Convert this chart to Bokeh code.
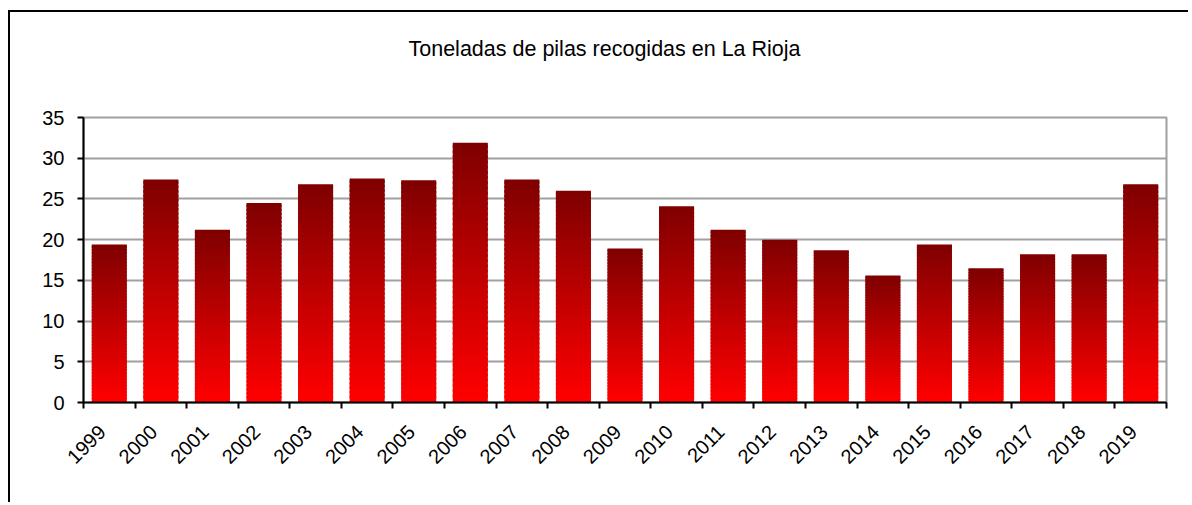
from math import pi
from bokeh.plotting import figure
from bokeh.models import FixedTicker, Range1d, Title
from bokeh.embed import file_html
from bokeh.resources import INLINE

title_text = "Toneladas de pilas recogidas en La Rioja"
years = ["1999", "2000", "2001", "2002", "2003", "2004", "2005", "2006", "2007", "2008",
         "2009", "2010", "2011", "2012", "2013", "2014", "2015", "2016", "2017", "2018", "2019"]
values = [19.4, 27.4, 21.2, 24.5, 26.8, 27.5, 27.3, 31.9, 27.4, 26.0,
          18.9, 24.1, 21.2, 20.0, 18.7, 15.6, 19.4, 16.5, 18.2, 18.2, 26.8]
y_ticks = [0, 5, 10, 15, 20, 25, 30, 35]

FONT = "Liberation Sans"

p = figure(width=1180, height=492, output_backend="svg", toolbar_location=None,
           x_range=Range1d(0, len(years)), y_range=Range1d(0, y_ticks[-1]),
           min_border_left=73, min_border_right=24, min_border_top=105, min_border_bottom=102)
p.margin = (10, 0, 0, 8)
p.styles = {"border-left": "2px solid black", "border-top": "2px solid black"}
p.background_fill_color = "white"
p.border_fill_color = "white"
p.outline_line_color = "#a0a0a0"
p.outline_line_width = 2

# spacer between the plot area and the chart title, then the title itself
spacer = Title(text=" ", text_font_size="1px", standoff=54)
title = Title(text=title_text, text_font=FONT, text_font_size="21.5px",
              text_font_style="normal", text_color="black", align="left",
              offset=325, standoff=0)
p.add_layout(spacer, "above")
p.add_layout(title, "above")

# gradient bars: each bar split in thin slices, dark at the top, bright at the bottom
N = 50
xs, bots, tops, cols = [], [], [], []
for i, v in enumerate(values):
    for k in range(N):
        frac = k / (N - 1)
        r = int(round(255 - (255 - 128) * frac))
        xs.append(i + 0.5)
        bots.append(v * k / N)
        tops.append(min(v, v * (k + 1.6) / N))
        cols.append("#%02x0000" % r)
p.vbar(x=xs, bottom=bots, top=tops, width=0.68, fill_color=cols, line_color=None)

# x axis: boundary ticks as minor ticks, year labels on (invisible) major ticks
LABEL_SHIFT = 0.14
p.xaxis.ticker = FixedTicker(ticks=[i + 0.5 - LABEL_SHIFT for i in range(len(years))],
                             minor_ticks=list(range(len(years) + 1)))
p.xaxis.major_label_overrides = {i + 0.5 - LABEL_SHIFT: y for i, y in enumerate(years)}
p.xaxis.major_tick_line_color = None
p.xaxis.minor_tick_line_color = "black"
p.xaxis.minor_tick_line_width = 2
p.xaxis.minor_tick_out = 6
p.xaxis.minor_tick_in = 0
p.xaxis.major_label_orientation = pi / 4
p.xaxis.major_label_standoff = 20
p.xaxis.axis_line_color = "black"
p.xaxis.axis_line_width = 2
p.xaxis.major_label_text_font = FONT
p.xaxis.major_label_text_font_size = "20px"
p.xaxis.major_label_text_color = "black"
p.xgrid.visible = False

# y axis
p.yaxis.ticker = FixedTicker(ticks=y_ticks)
p.yaxis.minor_tick_line_color = None
p.yaxis.major_tick_line_color = "black"
p.yaxis.major_tick_line_width = 2
p.yaxis.major_tick_out = 6
p.yaxis.major_tick_in = 0
p.yaxis.major_label_standoff = 13
p.yaxis.axis_line_color = "black"
p.yaxis.axis_line_width = 2
p.yaxis.major_label_text_font = FONT
p.yaxis.major_label_text_font_size = "20px"
p.yaxis.major_label_text_color = "black"
p.ygrid.grid_line_color = "#a0a0a0"
p.ygrid.grid_line_width = 2

open("out.html", "w").write(file_html(p, INLINE))
